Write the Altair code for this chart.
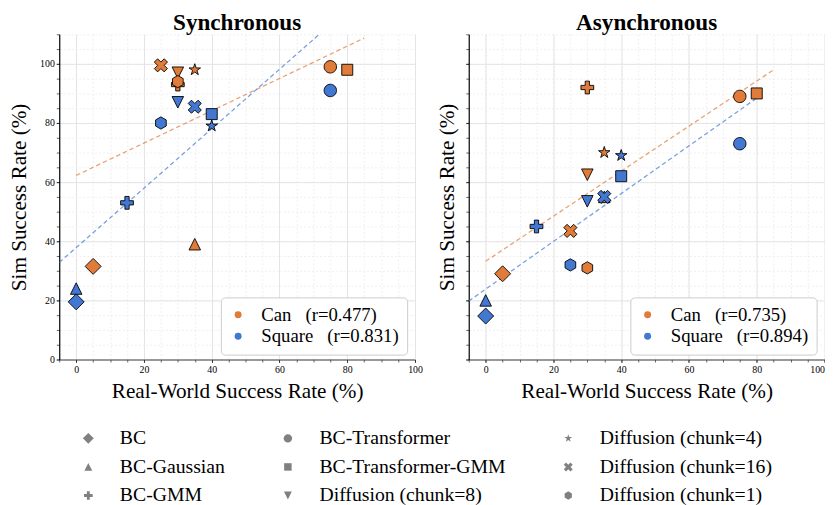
import altair as alt
import pandas as pd

# ---------------- data ----------------
methods = ["BC", "BC-Gaussian", "BC-GMM", "BC-Transformer", "BC-Transformer-GMM",
           "Diffusion (chunk=8)", "Diffusion (chunk=4)", "Diffusion (chunk=16)", "Diffusion (chunk=1)"]
real_can = [5, 35, 30, 75, 80, 30, 35, 25, 30]
real_square = [0, 0, 15, 75, 40, 30, 40, 35, 25]
sim_sync_can = [31.5, 39, 93, 99, 98, 97, 98, 99.5, 94]
sim_sync_square = [19.5, 24, 53, 91, 83, 87, 79, 85.5, 80]
sim_async_can = [29, 55, 92, 89, 90, 62.5, 70, 43.5, 31]
sim_async_square = [14.7, 20, 45, 73, 62, 53.5, 69, 55, 32]

panels = ["Synchronous", "Asynchronous"]
tasks = ["Can", "Square"]
r_can = ["0.477", "0.735"]
r_square = ["0.831", "0.894"]

x_major = [0, 20, 40, 60, 80, 100]
x_minor = list(range(-5, 101, 5))
y_major = [0, 20, 40, 60, 80, 100]
y_minor = list(range(0, 111, 5))

draw_order = ["BC-Gaussian", "BC", "BC-GMM", "BC-Transformer", "BC-Transformer-GMM",
              "Diffusion (chunk=8)", "Diffusion (chunk=4)", "Diffusion (chunk=16)", "Diffusion (chunk=1)"]

ORANGE = "#E07B39"
BLUE = "#4277D2"
FONT = "Liberation Serif"

shape_paths = {
    "BC": "M0,-0.9L0.9,0L0,0.9L-0.9,0Z",
    "BC-Gaussian": "M0,-0.65L0.65,0.65L-0.65,0.65Z",
    "BC-GMM": "M-0.24,-0.72L0.24,-0.72L0.24,-0.24L0.72,-0.24L0.72,0.24L0.24,0.24L0.24,0.72L-0.24,0.72L-0.24,0.24L-0.72,0.24L-0.72,-0.24L-0.24,-0.24Z",
    "BC-Transformer": "M0.7,0A0.7,0.7,0,1,1,-0.7,0A0.7,0.7,0,1,1,0.7,0Z",
    "BC-Transformer-GMM": "M-0.62,-0.62L0.62,-0.62L0.62,0.62L-0.62,0.62Z",
    "Diffusion (chunk=8)": "M0,0.65L0.65,-0.65L-0.65,-0.65Z",
    "Diffusion (chunk=4)": "M0,-0.68L0.153,-0.21L0.647,-0.21L0.247,0.08L0.4,0.55L0,0.26L-0.4,0.55L-0.247,0.08L-0.647,-0.21L-0.153,-0.21Z",
    "Diffusion (chunk=16)": "M-0.37,0.74L0,0.37L0.37,0.74L0.74,0.37L0.37,0L0.74,-0.37L0.37,-0.74L0,-0.37L-0.37,-0.74L-0.74,-0.37L-0.37,0L-0.74,0.37Z",
    "Diffusion (chunk=1)": "M0,-0.69L0.6,-0.345L0.6,0.345L0,0.69L-0.6,0.345L-0.6,-0.345Z",
}

rows = []
sims = {("Synchronous", "Can"): sim_sync_can, ("Synchronous", "Square"): sim_sync_square,
        ("Asynchronous", "Can"): sim_async_can, ("Asynchronous", "Square"): sim_async_square}
reals = {"Can": real_can, "Square": real_square}
for p in panels:
    for ti, t in enumerate(tasks):
        for i, m in enumerate(methods):
            rows.append({"panel": p, "task": t, "method": m, "real": reals[t][i],
                         "sim": sims[(p, t)][i],
                         "draw": ti * 100 + draw_order.index(m)})
df = pd.DataFrame(rows)

xs = alt.Scale(domain=[-5, 100], nice=False, zero=False)
ys = alt.Scale(domain=[0, 110], nice=False, zero=False)


def panel(idx):
    name = panels[idx]
    d = df[df.panel == name]
    left = idx == 0
    base = alt.Chart(d)

    minor = base.mark_point(opacity=0).encode(
        x=alt.X("real:Q", scale=xs, axis=alt.Axis(
            orient="bottom", values=x_minor, labels=False, grid=True, gridDash=[2, 2],
            gridColor="#ebebeb", gridWidth=0.8, domain=False, ticks=True, tickSize=2.5,
            tickColor="#222", tickWidth=0.7, title=None)),
        y=alt.Y("sim:Q", scale=ys, axis=alt.Axis(
            orient="left", values=y_minor, labels=False, grid=True, gridDash=[2, 2],
            gridColor="#ebebeb", gridWidth=0.8, domain=False, ticks=True, tickSize=3,
            tickColor="#222", tickWidth=0.7, title=None)),
    )

    lines = []
    for ti, t in enumerate(tasks):
        xr = reals[t]
        ext = [min(xr) - 5, max(xr) + 5]
        col = ORANGE if t == "Can" else BLUE
        lines.append(
            base.transform_filter(alt.datum.task == t)
            .transform_regression("real", "sim", extent=ext)
            .mark_line(color=col, strokeDash=[4.5, 3], strokeWidth=1.3, opacity=0.7, clip=True)
            .encode(x=alt.X("real:Q", scale=xs, axis=None),
                    y=alt.Y("sim:Q", scale=ys, axis=None))
        )

    lab = ("datum.label == 'Can' ? 'Can\u00a0\u00a0\u00a0(r=%s)' : 'Square\u00a0\u00a0\u00a0(r=%s)'"
           % (r_can[idx], r_square[idx]))

    pts = base.mark_point(filled=True, size=324, stroke="black", strokeWidth=0.9, opacity=1).encode(
        x=alt.X("real:Q", scale=xs, axis=alt.Axis(
            orient="bottom", values=x_major, grid=True, gridColor="#e2e2e2", gridWidth=0.9,
            domain=True, domainColor="#444", domainWidth=1.2, ticks=True, tickSize=3,
            tickColor="#222", tickWidth=0.8, labelFontSize=10, labelFont=FONT,
            labelColor="black", labelPadding=2, labelFlush=(not left),
            title="Real-World Success Rate (%)", titleFont=FONT, titleFontSize=21.5,
            titleFontWeight="normal", titleColor="black", titlePadding=7)),
        y=alt.Y("sim:Q", scale=ys, axis=alt.Axis(
            orient="left", values=y_major, grid=True, gridColor="#e2e2e2", gridWidth=0.9,
            domain=True, domainColor="black", domainWidth=1.2, ticks=True, tickSize=3,
            tickColor="#222", tickWidth=0.8, labels=left, labelFontSize=10, labelFont=FONT,
            labelColor="black", labelPadding=2,
            title="Sim Success Rate (%)", titleFont=FONT, titleFontSize=21.5,
            titleFontWeight="normal", titleColor="black",
            titlePadding=(9.5 if left else 7))),
        fill=alt.Color("task:N", scale=alt.Scale(domain=tasks, range=[ORANGE, BLUE]),
                       legend=alt.Legend(
                           title=None, orient="none", legendX=164, legendY=267, labelExpr=lab,
                           labelFont=FONT, labelFontSize=19, labelColor="black",
                           labelLimit=400,
                           symbolType="circle", symbolSize=50, symbolStrokeWidth=0,
                           labelOffset=14, rowPadding=2, padding=8,
                           fillColor="white", strokeColor="#cccccc", cornerRadius=4)),
        shape=alt.Shape("method:N",
                        scale=alt.Scale(domain=methods,
                                        range=[shape_paths[m] for m in methods]),
                        legend=alt.Legend(
                            title=None, orient="none", legendX=19.5, legendY=400, columns=3,
                            labelFont=FONT, labelFontSize=20, labelColor="black",
                            labelLimit=400,
                            symbolSize=150, symbolFillColor="#808080",
                            symbolStrokeColor="#808080", symbolStrokeWidth=0,
                            labelOffset=22, columnPadding=53.5, rowPadding=9)),
        order=alt.Order("draw:Q"),
    )

    return alt.layer(minor, *lines, pts).resolve_axis(
        x="independent", y="independent"
    ).properties(
        width=361, height=330,
        title=alt.TitleParams(name, font=FONT, fontSize=23.5, fontWeight="bold",
                              anchor="middle", offset=-1, color="black"),
    )


chart = alt.hconcat(panel(0), panel(1), spacing=54.5, bounds="flush").resolve_scale(
    fill="independent"
).resolve_legend(fill="independent", shape="shared").properties(
    padding={"left": 0, "top": 0, "right": 0, "bottom": 0}
).configure(font=FONT).configure_axis(
    labelFont=FONT, titleFont=FONT
).configure_legend(
    labelFont=FONT
).configure_title(font=FONT).configure_view(stroke=None)

chart.save("out.html", embed_options={"renderer": "svg", "actions": False})
